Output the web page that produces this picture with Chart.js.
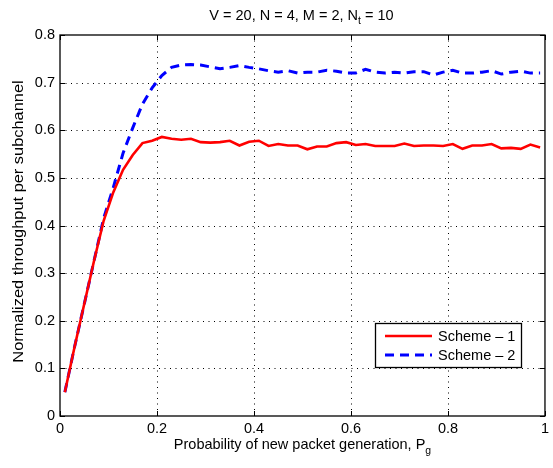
<!DOCTYPE html>
<html><head><meta charset="utf-8">
<script src="https://cdn.jsdelivr.net/npm/chart.js"></script>
<style>html,body{margin:0;padding:0;background:#fff;} #wrap{width:553px;height:468px;position:relative;}</style>
</head><body><div id="wrap"><canvas id="c" width="553" height="468"></canvas></div>
<script>
const pg = [0.01,0.03,0.05,0.07,0.09,0.11,0.13,0.15,0.17,0.19,0.21,0.23,0.25,0.27,0.29,0.31,0.33,0.35,0.37,0.39,0.41,0.43,0.45,0.47,0.49,0.51,0.53,0.55,0.57,0.59,0.61,0.63,0.65,0.67,0.69,0.71,0.73,0.75,0.77,0.79,0.81,0.83,0.85,0.87,0.89,0.91,0.93,0.95,0.97,0.99];
const scheme1 = [0.05,0.145,0.235,0.325,0.41,0.47,0.517,0.548,0.573,0.578,0.586,0.582,0.580,0.582,0.575,0.574,0.575,0.578,0.568,0.576,0.578,0.567,0.571,0.568,0.568,0.560,0.566,0.566,0.573,0.575,0.569,0.571,0.567,0.567,0.567,0.572,0.567,0.568,0.568,0.567,0.571,0.561,0.568,0.568,0.571,0.562,0.563,0.561,0.570,0.564];
const scheme2 = [0.05,0.145,0.235,0.325,0.415,0.48,0.552,0.605,0.655,0.689,0.715,0.732,0.737,0.738,0.737,0.733,0.729,0.732,0.736,0.732,0.729,0.725,0.722,0.725,0.720,0.722,0.722,0.726,0.724,0.720,0.720,0.728,0.722,0.720,0.722,0.720,0.723,0.723,0.716,0.722,0.726,0.720,0.720,0.722,0.725,0.718,0.722,0.724,0.720,0.720];
const seriesLabels = ['Scheme \u2013 1','Scheme \u2013 2'];
const xTicks = [0,0.2,0.4,0.6,0.8,1];
const xTickLabels = ['0','0.2','0.4','0.6','0.8','1'];
const yTicks = [0,0.1,0.2,0.3,0.4,0.5,0.6,0.7,0.8];
const yTickLabels = ['0','0.1','0.2','0.3','0.4','0.5','0.6','0.7','0.8'];
const titleParts = ['V = 20, N = 4, M = 2, N','t',' = 10'];
const xTitleParts = ['Probability of new packet generation, P','g'];
const yTitle = 'Normalized throughput per subchannel';

const FONT = '"Liberation Sans", Arial, sans-serif';
const FS = 14.5;

function drawSubText(ctx, parts, cx, baseline, fs) {
  ctx.save();
  ctx.fillStyle = '#000';
  ctx.textBaseline = 'alphabetic';
  ctx.textAlign = 'left';
  const big = fs + 'px ' + FONT, small = (fs*0.72) + 'px ' + FONT;
  let w = 0; const ws = [];
  parts.forEach((p,i)=>{ ctx.font = (i%2===1)?small:big; const m = ctx.measureText(p).width; ws.push(m); w += m; });
  let x = cx - w/2;
  parts.forEach((p,i)=>{ ctx.font = (i%2===1)?small:big; ctx.fillText(p, x, baseline + ((i%2===1)? fs*0.32 : 0)); x += ws[i]; });
  ctx.restore();
}

const decor = {
  id: 'decor',
  beforeDatasetsDraw(chart) {
    const {ctx, chartArea: a, scales: {x, y}} = chart;
    ctx.save();
    ctx.strokeStyle = '#000';
    ctx.lineWidth = 1;
    ctx.setLineDash([1, 4.5]);
    xTicks.forEach(v => { if (v > 0 && v < 1) { const px = Math.round(x.getPixelForValue(v)) + 0.5; ctx.beginPath(); ctx.moveTo(px, a.top); ctx.lineTo(px, a.bottom); ctx.stroke(); } });
    yTicks.forEach(v => { if (v > 0 && v < 0.8) { const py = Math.round(y.getPixelForValue(v)) + 0.5; ctx.beginPath(); ctx.moveTo(a.left, py); ctx.lineTo(a.right, py); ctx.stroke(); } });
    ctx.restore();
  },
  afterDatasetsDraw(chart) {
    const {ctx, chartArea: a, scales: {x, y}} = chart;
    ctx.save();
    ctx.strokeStyle = '#000';
    ctx.lineWidth = 1.3;
    ctx.setLineDash([]);
    ctx.strokeRect(a.left, a.top, a.right - a.left, a.bottom - a.top);
    ctx.lineWidth = 1;
    const tl = 5;
    xTicks.forEach(v => { const px = Math.round(x.getPixelForValue(v)) + 0.5; ctx.beginPath(); ctx.moveTo(px, a.bottom); ctx.lineTo(px, a.bottom - tl); ctx.moveTo(px, a.top); ctx.lineTo(px, a.top + tl); ctx.stroke(); });
    yTicks.forEach(v => { const py = Math.round(y.getPixelForValue(v)) + 0.5; ctx.beginPath(); ctx.moveTo(a.left, py); ctx.lineTo(a.left + tl, py); ctx.moveTo(a.right, py); ctx.lineTo(a.right - tl, py); ctx.stroke(); });
    ctx.restore();

    // titles
    drawSubText(ctx, titleParts, (a.left + a.right)/2 - 1, 19.5, FS);
    drawSubText(ctx, xTitleParts, (a.left + a.right)/2, 449, FS);
    ctx.save();
    ctx.translate(19, (a.top + a.bottom)/2 - 4);
    ctx.rotate(-Math.PI/2);
    ctx.scale(1.13, 1);
    ctx.font = FS + 'px ' + FONT;
    ctx.fillStyle = '#000';
    ctx.textAlign = 'center';
    ctx.textBaseline = 'middle';
    ctx.fillText(yTitle, 0, 0);
    ctx.restore();

    // legend
    const lx = 375, ly = 323, lw = 146, lh = 44;
    ctx.save();
    ctx.fillStyle = '#fff';
    ctx.fillRect(lx, ly, lw, lh);
    ctx.strokeStyle = '#000';
    ctx.lineWidth = 1.3;
    ctx.strokeRect(lx + 0.5, ly + 0.5, lw, lh);
    chart.data.datasets.forEach((ds, i) => {
      const yy = ly + 13 + i * 19;
      ctx.strokeStyle = ds.borderColor;
      ctx.lineWidth = ds.borderWidth;
      ctx.setLineDash(ds.borderDash || []);
      ctx.beginPath(); ctx.moveTo(lx + 10, yy); ctx.lineTo(lx + 57, yy); ctx.stroke();
      ctx.setLineDash([]);
      ctx.fillStyle = '#000';
      ctx.font = FS + 'px ' + FONT;
      ctx.textAlign = 'left';
      ctx.textBaseline = 'middle';
      ctx.fillText(ds.label, lx + 63, yy + 0.5);
    });
    ctx.restore();
  }
};

new Chart(document.getElementById('c'), {
  type: 'line',
  data: {
    datasets: [
      { label: seriesLabels[0], data: pg.map((v, i) => ({x: v, y: scheme1[i]})), borderColor: '#ff0000', borderWidth: 2.6, pointRadius: 0, tension: 0, fill: false },
      { label: seriesLabels[1], data: pg.map((v, i) => ({x: v, y: scheme2[i]})), borderColor: '#0000ff', borderWidth: 3, borderDash: [9, 6], pointRadius: 0, tension: 0, fill: false }
    ]
  },
  options: {
    responsive: false,
    animation: false,
    devicePixelRatio: 1,
    layout: { padding: { left: 0, top: 35, right: 8, bottom: 0 } },
    plugins: { legend: { display: false }, title: { display: false }, tooltip: { enabled: false } },
    scales: {
      x: {
        type: 'linear', min: 0, max: 1,
        grid: { display: false, drawTicks: false },
        border: { display: false },
        afterBuildTicks: s => { s.ticks = xTicks.map(v => ({value: v})); },
        afterFit: s => { s.height = 52; },
        ticks: { padding: 4, color: '#000', font: { family: FONT, size: FS }, maxRotation: 0, autoSkip: false,
          callback: (v) => { const i = xTicks.indexOf(v); return i >= 0 ? xTickLabels[i] : ''; } }
      },
      y: {
        type: 'linear', min: 0, max: 0.8,
        grid: { display: false, drawTicks: false },
        border: { display: false },
        afterBuildTicks: s => { s.ticks = yTicks.map(v => ({value: v})); },
        afterFit: s => { s.width = 60; },
        ticks: { padding: 5, color: '#000', font: { family: FONT, size: FS }, autoSkip: false,
          callback: (v) => { const i = yTicks.indexOf(v); return i >= 0 ? yTickLabels[i] : ''; } }
      }
    }
  },
  plugins: [decor]
});
</script>
</body></html>
